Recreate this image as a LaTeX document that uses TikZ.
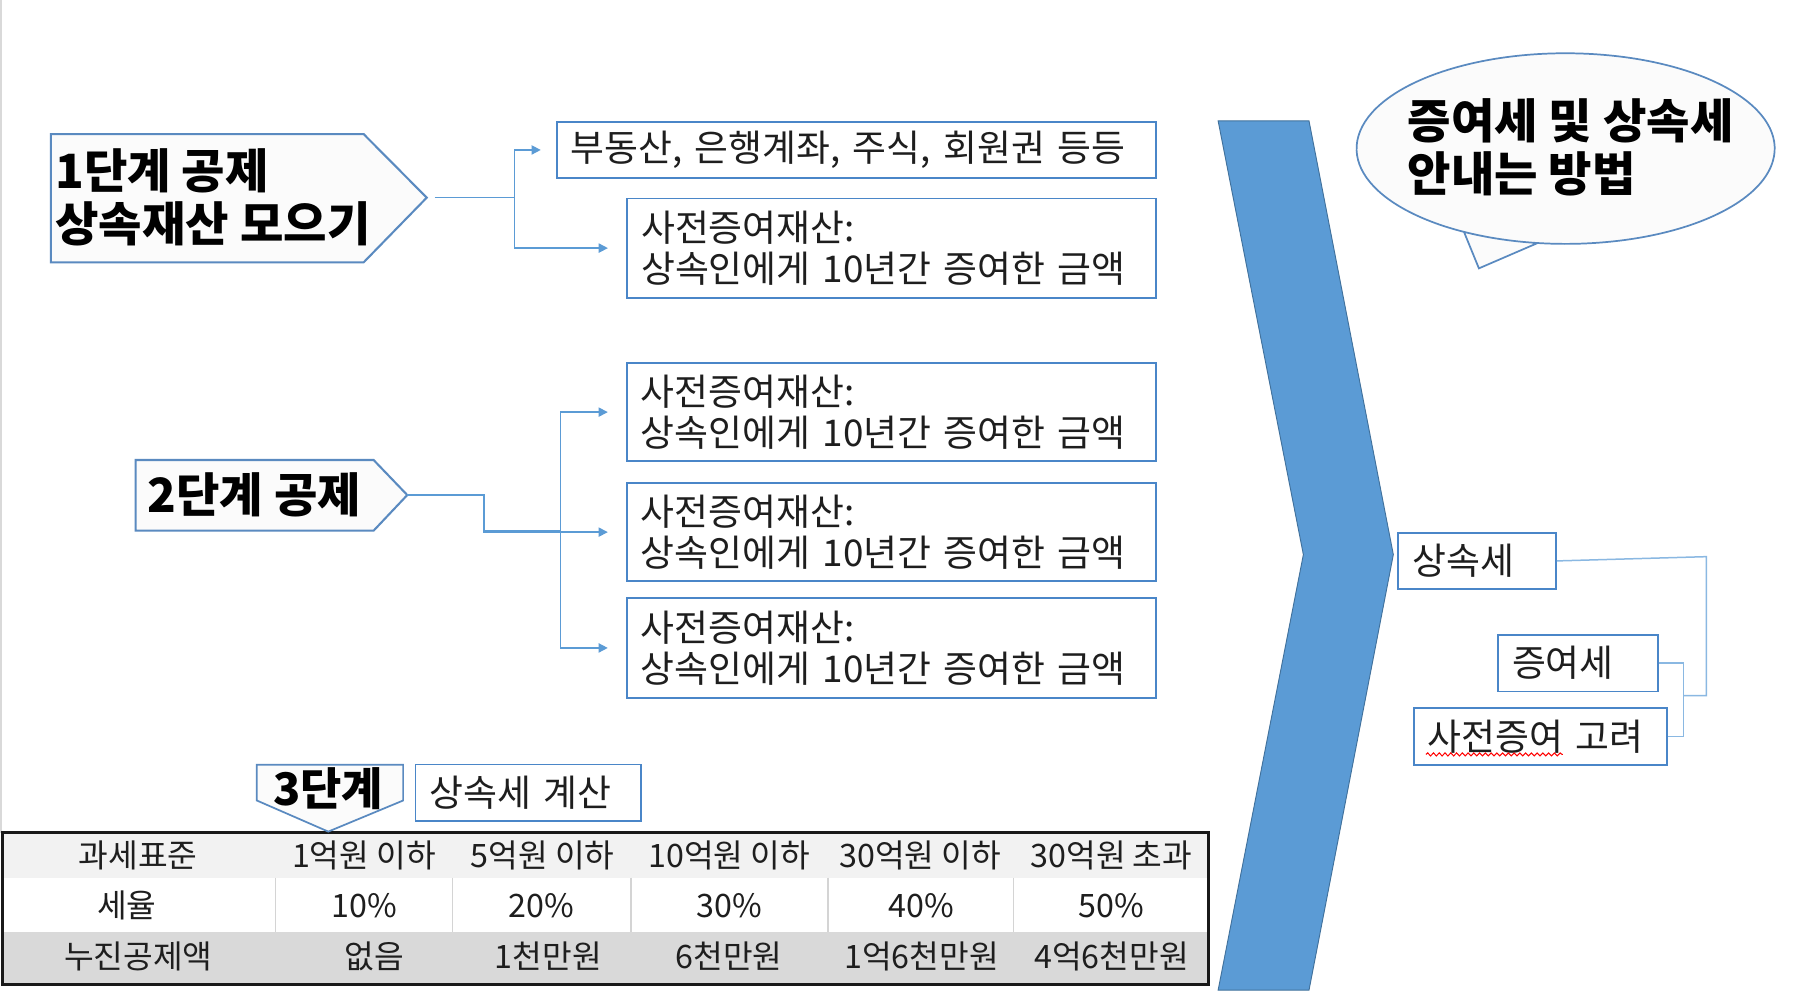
\documentclass[tikz,border=0pt]{standalone}
\usepackage{fontspec}
\setmainfont{Noto Sans CJK KR}
\usetikzlibrary{arrows.meta,decorations.pathmorphing}
\definecolor{chev}{HTML}{5B9BD5}
\definecolor{chevline}{HTML}{41719C}
\definecolor{penline}{HTML}{5A8AC0}
\definecolor{boxline}{HTML}{4A86C8}
\definecolor{connA}{HTML}{5B9BD5}
\definecolor{connB}{HTML}{8AB8E2}
\definecolor{txt}{HTML}{1E1E1E}
\definecolor{rowA}{HTML}{F2F2F2}
\definecolor{rowC}{HTML}{D9D9D9}
\definecolor{sepg}{HTML}{D4D4D4}
\definecolor{pentfill}{HTML}{FBFBFB}
\begin{document}
\begin{tikzpicture}[x=1pt,y=-1pt,
 pent/.style={draw=penline, line width=1.8pt, fill=pentfill},
 bigtxt/.style={font=\bfseries\fontsize{41}{46}\selectfont, text=black, inner sep=0pt, align=left},
 box/.style={draw=boxline, line width=1.6pt, fill=white, anchor=north west, align=left, inner xsep=12pt, inner ysep=0pt, text=txt, font=\fontsize{32}{35.5}\selectfont},
 connL/.style={draw=connA, line width=1.3pt, -{Triangle[length=8pt,width=8pt]}},
 connR/.style={draw=connB, line width=1.3pt},
 cell/.style={text=txt, font=\fontsize{28}{30}\selectfont, inner sep=0pt}
]
\useasboundingbox (0,0) rectangle (1568,862);
\fill[white] (0,0) rectangle (1568,862);
\draw[black!15, line width=1.2pt] (0.8,0) -- (0.8,723);

% ---------- step 1 ----------
\draw[pent] (44.2,116.4) -- (315.7,116.4) -- (370.5,171.6) -- (315.7,227.8) -- (44.2,227.8) -- cycle;
\coordinate (p1tip) at (370.5,171.6);
\node[bigtxt, anchor=west] (t1) at (48,171.5) {1단계 공제\\상속재산 모으기};

\node[box, minimum width=520.2pt, minimum height=49.2pt, text width=496.2pt] (bA) at (482.5,104.8) {부동산, 은행계좌, 주식, 회원권 등등};
\node[box, minimum width=458.9pt, minimum height=86pt, text width=434.9pt] (bB) at (543.8,171.6) {사전증여재산:\\상속인에게 10년간 증여한 금액};

\coordinate (j1) at (446.9,171.6);
\draw[connL] ([xshift=7pt]p1tip) -- (j1) |- ([xshift=-13pt]bA.west);
\draw[connL] ([xshift=7pt]p1tip) -- (j1) |- ([xshift=-16pt]bB.west);

% ---------- step 2 ----------
\draw[pent] (117.7,399.4) -- (324.4,399.4) -- (353.6,429.8) -- (324.4,460.7) -- (117.7,460.7) -- cycle;
\coordinate (p2tip) at (353.6,429.8);
\node[bigtxt, anchor=west] (t2) at (128,430) {2단계 공제};

\node[box, minimum width=459pt, minimum height=84.8pt, text width=435pt] (bC) at (543.7,314.6) {사전증여재산:\\상속인에게 10년간 증여한 금액};
\node[box, minimum width=459pt, minimum height=84.8pt, text width=435pt] (bD) at (543.7,418.8) {사전증여재산:\\상속인에게 10년간 증여한 금액};
\node[box, minimum width=459pt, minimum height=86.3pt, text width=435pt] (bE) at (543.7,518.6) {사전증여재산:\\상속인에게 10년간 증여한 금액};

\coordinate (j2) at (420,429.8);
\coordinate (j3) at (486.6,461.2);
\draw[connL] (p2tip) -- (j2) |- ([xshift=-16pt]bD.west);
\draw[connL] (p2tip) -- (j2) |- (j3) |- ([xshift=-16pt]bC.west);
\draw[connL] (p2tip) -- (j2) |- (j3) |- ([xshift=-16pt]bE.west);

% ---------- chevron ----------
\draw[fill=chev, draw=chevline, line width=0.8pt] (1057.6,105) -- (1136.5,105) -- (1209.7,481.5) -- (1136.5,859.6) -- (1057.6,859.6) -- (1131.6,481.5) -- cycle;

% ---------- callout ----------
\draw[pent, line width=1.5pt] (1359.3,129) ++(97.7:181.5 and 82.75) arc[start angle=97.7, end angle=479.1, x radius=181.5, y radius=82.75] -- (1284,233) -- cycle;
\node[bigtxt, anchor=west] (tc) at (1222,128) {증여세 및 상속세\\안내는 방법};

% ---------- right boxes ----------
\node[box, minimum width=136.7pt, minimum height=49.2pt, text width=112.7pt] (rS) at (1213.3,461.6) {상속세};
\node[box, minimum width=138.5pt, minimum height=49.2pt, text width=114.5pt] (rJ) at (1300,550.4) {증여세};
\node[box, minimum width=220pt, minimum height=49.3pt, text width=196pt] (rP) at (1226.8,614) {사전증여 고려};
\draw[red, line width=0.9pt, decorate, decoration={snake, segment length=5pt, amplitude=1.3pt}] (1238,655) -- (1357,655);

\coordinate (k1) at (1481.5,483.3);
\coordinate (k2) at (1461.5,604);
\draw[connR] (rS.east) -- (k1) |- (k2);
\draw[connR] (rJ.east) -| (k2) |- (rP.east);

% ---------- table ----------
\fill[rowA] (2,723) rectangle (1049,762);
\fill[white] (2,762) rectangle (1049,809);
\fill[rowC] (2,809) rectangle (1049,855);
\foreach \x in {239,393,548,719,880} \draw[sepg, line width=1.2pt] (\x,762) -- (\x,809);
\draw[line width=2.8pt, draw=black!90] (2,723) rectangle (1049,855);

\node[cell] (c11) at (120,742.5) {과세표준};
\node[cell] (c12) at (316,742.5) {1억원 이하};
\node[cell] (c13) at (471,742.5) {5억원 이하};
\node[cell] (c14) at (633,742.5) {10억원 이하};
\node[cell] (c15) at (799,742.5) {30억원 이하};
\node[cell] (c16) at (965,742.5) {30억원 초과};

\node[cell] (c21) at (110,786) {세율};
\node[cell] (c22) at (316,786) {10\%};
\node[cell] (c23) at (470,786) {20\%};
\node[cell] (c24) at (633,786) {30\%};
\node[cell] (c25) at (800,786) {40\%};
\node[cell] (c26) at (965,786) {50\%};

\node[cell] (c31) at (120,830) {누진공제액};
\node[cell] (c32) at (325,830) {없음};
\node[cell] (c33) at (476,830) {1천만원};
\node[cell] (c34) at (633,830) {6천만원};
\node[cell] (c35) at (800,830) {1억6천만원};
\node[cell] (c36) at (965,830) {4억6천만원};

% ---------- step 3 ----------
\draw[pent, line width=1.5pt] (223,664) -- (350,664) -- (350,695) -- (285,722) -- (223,695) -- cycle;
\node[bigtxt, font=\bfseries\fontsize{39}{46}\selectfont] (t3) at (285,685) {3단계};
\node[box, minimum width=196pt, minimum height=49pt, text width=172pt] (b3) at (360,663) {상속세 계산};

\end{tikzpicture}
\end{document}
